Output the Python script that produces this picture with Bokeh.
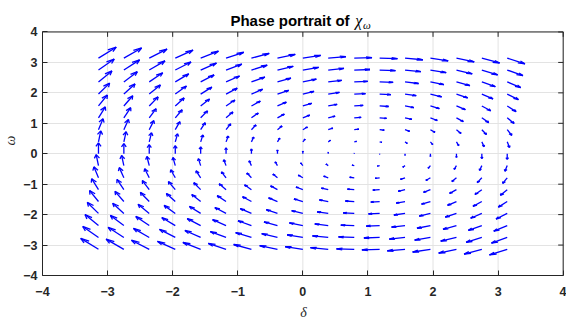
import numpy as np
from bokeh.plotting import figure
from bokeh.models import Range1d, Label, FixedTicker
from bokeh.embed import file_html
from bokeh.resources import INLINE

# ---- data ----
# grid of the phase portrait (delta columns, omega rows)
delta_grid = [-3.14, -2.75, -2.36, -1.96, -1.57, -1.18, -0.79, -0.39, 0.0,
              0.39, 0.79, 1.18, 1.57, 1.96, 2.36, 2.75, 3.14]
omega_grid = [-3.14, -2.75, -2.36, -1.96, -1.57, -1.18, -0.79, -0.39, 0.0,
              0.39, 0.79, 1.18, 1.57, 1.96, 2.36, 2.75, 3.14]
# d(delta)/dt read per row (same along each row)
ddelta_row = [-3.1, -2.75, -2.35, -1.95, -1.55, -1.2, -0.8, -0.4, 0.0,
              0.4, 0.8, 1.2, 1.55, 1.95, 2.35, 2.75, 3.1]
# d(omega)/dt read per column (same along each column)
domega_col = [4.1, 3.8, 3.4, 3.0, 2.6, 2.2, 1.8, 1.4, 1.0,
              0.6, 0.2, -0.2, -0.6, -1.0, -1.4, -1.8, -2.1]
ticks = [-4, -3, -2, -1, 0, 1, 2, 3, 4]

# ---- styles ----
ARROW_SCALE = 0.088
HEAD_A = 0.33
HEAD_B = 0.33
BLUE = "#0000ff"
DARK = "#262626"
GRID = "#e3e3e3"
LO, HI = -4, 4
TITLE_ROOM = 0.87   # extra room above the axes box for the title
RIGHT_PAD = 0.02    # keeps the right edge of the box inside the frame

X, Y = np.meshgrid(np.array(delta_grid), np.array(omega_grid))
U = np.tile(np.array(ddelta_row)[:, None], (1, len(delta_grid))) * ARROW_SCALE
V = np.tile(np.array(domega_col)[None, :], (len(omega_grid), 1)) * ARROW_SCALE
x0 = X.ravel(); y0 = Y.ravel(); u = U.ravel(); v = V.ravel()
tx = x0 + u; ty = y0 + v
b1x = tx - HEAD_A * (u + HEAD_B * v); b1y = ty - HEAD_A * (v - HEAD_B * u)
b2x = tx - HEAD_A * (u - HEAD_B * v); b2y = ty - HEAD_A * (v + HEAD_B * u)

p = figure(width=566, height=322, output_backend="svg", toolbar_location=None,
           x_range=Range1d(LO, HI + RIGHT_PAD), y_range=Range1d(LO, HI + TITLE_ROOM),
           min_border_left=42, min_border_right=2, min_border_top=5,
           min_border_bottom=39, title=None)
p.background_fill_color = "white"
p.border_fill_color = "white"
p.outline_line_color = None

for ax in (p.xaxis[0], p.yaxis[0]):
    ax.ticker = FixedTicker(ticks=ticks)
    ax.bounds = (LO, HI)
    ax.major_tick_in = 5
    ax.major_tick_out = 0
    ax.minor_tick_in = 0
    ax.minor_tick_out = 0
    ax.axis_line_color = DARK
    ax.major_tick_line_color = DARK
    ax.major_label_text_font = "Liberation Sans"
    ax.major_label_text_font_style = "bold"
    ax.major_label_text_font_size = "12.5px"
    ax.major_label_text_color = DARK
    ax.axis_label_text_font = "Liberation Serif"
    ax.axis_label_text_font_style = "italic"
    ax.axis_label_text_font_size = "14px"
    ax.axis_label_text_color = DARK
    ax.axis_label_text_line_height = 1.0
p.xaxis[0].major_label_standoff = 11
p.yaxis[0].major_label_standoff = 5
p.xaxis[0].axis_label = "δ"
p.yaxis[0].axis_label = "ω"
p.xaxis[0].axis_label_standoff = 6
p.yaxis[0].axis_label_standoff = 2

p.xgrid.visible = False
p.ygrid.ticker = FixedTicker(ticks=ticks)
p.ygrid.grid_line_color = GRID

tk = np.array(ticks, dtype=float)
lo = np.full_like(tk, LO)
hi = np.full_like(tk, HI)
# vertical grid lines limited to the axes box
p.segment(x0=tk, y0=lo, x1=tk, y1=hi, line_color=GRID, line_width=1)

p.segment(x0=x0, y0=y0, x1=tx, y1=ty, line_color=BLUE, line_width=1.3)
p.segment(x0=b1x, y0=b1y, x1=tx, y1=ty, line_color=BLUE, line_width=1.3)
p.segment(x0=b2x, y0=b2y, x1=tx, y1=ty, line_color=BLUE, line_width=1.3)

# top and right edges of the box, with inward ticks
p.segment(x0=[LO, HI], y0=[HI, LO], x1=[HI, HI], y1=[HI, HI], line_color=DARK, line_width=1)
p.segment(x0=tk, y0=hi, x1=tk, y1=hi - 0.16, line_color=DARK, line_width=1)
p.segment(x0=hi, y0=tk, x1=hi - 0.077, y1=tk, line_color=DARK, line_width=1)

# title pieces
p.add_layout(Label(x=-1.113, y=4.37, text="Phase portrait of", text_font="Liberation Sans",
                   text_font_style="bold", text_font_size="15px", text_color="black",
                   text_align="left", text_baseline="alphabetic"))
p.add_layout(Label(x=0.806, y=4.37, text="χ", text_font="Liberation Serif",
                   text_font_style="italic", text_font_size="16px", text_color="black",
                   text_align="left", text_baseline="alphabetic"))
p.add_layout(Label(x=0.925, y=4.23, text="ω", text_font="Liberation Serif",
                   text_font_style="italic", text_font_size="11px", text_color="black",
                   text_align="left", text_baseline="alphabetic"))

open("out.html", "w").write(file_html(p, INLINE))
